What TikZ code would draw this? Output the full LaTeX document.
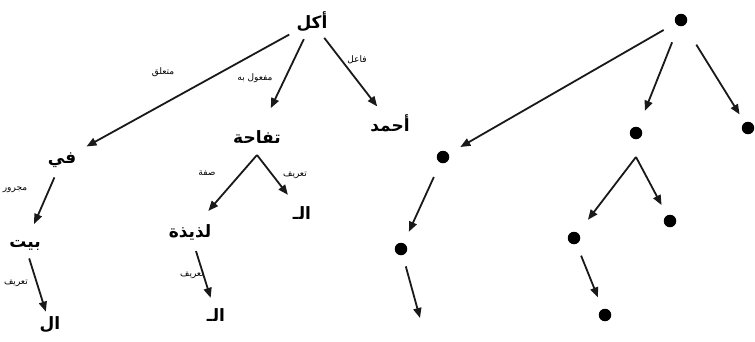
\documentclass[tikz,border=0pt]{standalone}
\usepackage{fontspec}
\usetikzlibrary{arrows.meta}
\TeXXeTstate=1
\newfontfamily\arabicfont[Script=Arabic]{DejaVu Sans}
\begin{document}
\begin{tikzpicture}[x=1pt,y=-1pt,
  word/.style={font=\arabicfont\bfseries\fontsize{17}{19}\selectfont, inner sep=0pt},
  lbl/.style={font=\arabicfont\fontsize{9}{10}\selectfont, inner sep=0pt},
  dot/.style={circle, fill=black, inner sep=0pt, minimum size=12.5pt},
  arr/.style={draw=black!90, line width=1.8pt, -{Triangle[length=10pt,width=8pt]}}]
\useasboundingbox (0,0) rectangle (755,341);
% left tree: words
\node[word] (akl) at (312,22) {\beginR أكل\endR};
\node[word] (ahmad) at (390,123) {\beginR أحمد\endR};
\node[word] (fi) at (62,160) {\beginR في\endR};
\node[word] (tuf) at (257,137) {\beginR تفاحة\endR};
\coordinate (t0) at (257,155);
\node[word] (bayt) at (25,245) {\beginR بيت\endR};
\node[word] (al1) at (50,325) {\beginR ال\endR};
\node[word] (lad) at (190,232) {\beginR لذيذة\endR};
\node[word] (al2) at (302,213) {\beginR الـ\endR};
\node[word] (al3) at (216,315) {\beginR الـ\endR};
% labels
\node[lbl] (l1) at (163,72) {\beginR متعلق\endR};
\node[lbl] (l2) at (255,78) {\beginR مفعول به\endR};
\node[lbl] (l3) at (357,60) {\beginR فاعل\endR};
\node[lbl] (l4) at (15,190) {\beginR مجرور\endR};
\node[lbl] (l5) at (207,173) {\beginR صفة\endR};
\node[lbl] (l6) at (295,175) {\beginR تعريف\endR};
\node[lbl] (l7) at (16,283) {\beginR تعريف\endR};
\node[lbl] (l8) at (192,275) {\beginR تعريف\endR};
% left tree: arrows
\draw[arr, shorten <=26pt, shorten >=28pt] (akl.center) -- (fi.center);
\draw[arr, shorten <=19pt, shorten >=32pt] (akl.center) -- (tuf.center);
\draw[arr, shorten <=20pt, shorten >=21pt] (akl.center) -- (ahmad.center);
\draw[arr, shorten <=19pt, shorten >=23pt] (fi.center) -- (bayt.center);
\draw[arr, shorten >=28pt] (t0) -- (lad.center);
\draw[arr, shorten >=23pt] (t0) -- (al2.center);
\draw[arr, shorten <=14pt, shorten >=14pt] (bayt.center) -- (al1.center);
\draw[arr, shorten <=20pt, shorten >=18pt] (lad.center) -- (al3.center);
% right tree: dots
\node[dot] (r0) at (681,20) {};
\node[dot] (r1) at (443,157) {};
\node[dot] (r2) at (636,133) {};
\node[dot] (r3) at (748,128) {};
\node[dot] (r4) at (401,249) {};
\node[dot] (r5) at (574,238) {};
\node[dot] (r6) at (670,221) {};
\node[dot] (r7) at (605,315) {};
\coordinate (a2) at (636,157);
\coordinate (e) at (420,318);
% right tree: arrows
\draw[arr, shorten <=20pt, shorten >=20pt] (r0.center) -- (r1.center);
\draw[arr, shorten <=24pt, shorten >=24pt] (r0.center) -- (r2.center);
\draw[arr, shorten <=29pt, shorten >=16pt] (r0.center) -- (r3.center);
\draw[arr, shorten <=22pt, shorten >=19pt] (r1.center) -- (r4.center);
\draw[arr, shorten >=23pt] (a2) -- (r5.center);
\draw[arr, shorten >=18pt] (a2) -- (r6.center);
\draw[arr, shorten <=19pt, shorten >=19pt] (r5.center) -- (r7.center);
\draw[arr, shorten <=18pt] (r4.center) -- (e);
\end{tikzpicture}
\end{document}
